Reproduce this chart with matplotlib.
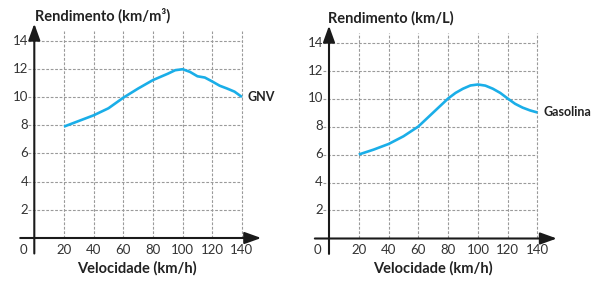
import matplotlib
matplotlib.use("Agg")
import matplotlib.pyplot as plt

plt.rcParams['font.family'] = ['Lato', 'DejaVu Sans']

# Data
velocidade_gnv = [20, 30, 40, 50, 60, 70, 80, 90, 95, 100, 105, 110, 115, 120, 125, 130, 135, 140]
rendimento_gnv = [7.9, 8.3, 8.7, 9.2, 9.95, 10.6, 11.2, 11.65, 11.9, 11.97, 11.78, 11.47, 11.38, 11.1, 10.8, 10.6, 10.38, 10.0]

velocidade_gas = [20, 30, 40, 50, 60, 65, 70, 75, 80, 85, 90, 95, 100, 105, 110, 115, 120, 125, 130, 135, 140]
rendimento_gas = [6.0, 6.35, 6.75, 7.3, 8.0, 8.5, 9.0, 9.5, 10.0, 10.4, 10.7, 10.93, 11.0, 10.92, 10.7, 10.4, 10.0, 9.62, 9.35, 9.15, 9.0]

x_ticks = [20, 40, 60, 80, 100, 120, 140]
y_ticks = [2, 4, 6, 8, 10, 12, 14]

title_gnv = "Rendimento (km/m³)"
title_gas = "Rendimento (km/L)"
xlabel = "Velocidade (km/h)"
label_gnv = "GNV"
label_gas = "Gasolina"

fig = plt.figure(figsize=(6.15, 2.86), dpi=100)

W, H = 615, 286


def make_axes(x0px, y0px, sx, sy):
    xmin, xmax, ymin, ymax = -12, 155, -2.6, 17
    left = (x0px + xmin * sx) / W
    width = (xmax - xmin) * sx / W
    top = (y0px - ymax * sy)
    bottom = (y0px - ymin * sy)
    ax = fig.add_axes([left, 1 - bottom / H, width, (bottom - top) / H])
    ax.set_xlim(xmin, xmax)
    ax.set_ylim(ymin, ymax)
    ax.axis('off')
    return ax


def draw(ax, xs, ys, title, label, label_xy, title_x):
    grid_kw = dict(color='#9a9a9a', lw=0.8, ls=(0, (2.5, 1.5)), zorder=1)
    for xt in x_ticks:
        ax.plot([xt, xt], [0, 14.7], **grid_kw)
    for yt in y_ticks:
        ax.plot([-4, 140], [yt, yt], **grid_kw)
        ax.text(-4.0, yt, str(yt), ha='right', va='center', fontsize=9.5,
                color='#333333')
    for xt in x_ticks:
        ax.text(xt, -0.85, str(xt), ha='center', va='center', fontsize=9.5,
                color='#333333')
    ax.text(-7.5, -0.85, "0", ha='center', va='center', fontsize=9.5,
            color='#333333')
    arrow = '-|>,head_length=1.0,head_width=0.36'
    ax.annotate('', xy=(153, 0), xytext=(-9.5, 0),
                arrowprops=dict(arrowstyle=arrow, color='#1a1a1a', lw=1.5,
                                shrinkA=0, shrinkB=0), zorder=3)
    ax.annotate('', xy=(0, 15.2), xytext=(0, -1.1),
                arrowprops=dict(arrowstyle=arrow, color='#1a1a1a', lw=1.5,
                                shrinkA=0, shrinkB=0), zorder=3)
    ax.plot(xs, ys, color='#1aaee8', lw=1.9, solid_joinstyle='round',
            solid_capstyle='butt', zorder=4)
    ax.text(label_xy[0], label_xy[1], label, ha='left', va='center',
            fontsize=9, fontweight='bold', color='#222222')
    ax.text(title_x, 15.75, title, ha='left', va='center', fontsize=10.5,
            fontweight='bold', color='#222222')
    ax.text(69.5, -2.15, xlabel, ha='center', va='center', fontsize=10.5,
            fontweight='bold', color='#222222')


ax1 = make_axes(34.3, 238, 1.483, 14.1)
draw(ax1, velocidade_gnv, rendimento_gnv, title_gnv, label_gnv, (144, 10.0), 0.7)

ax2 = make_axes(329, 238.5, 1.489, 14.0)
draw(ax2, velocidade_gas, rendimento_gas, title_gas, label_gas, (144, 9.0), -0.7)

fig.savefig("out.png", dpi=100)
